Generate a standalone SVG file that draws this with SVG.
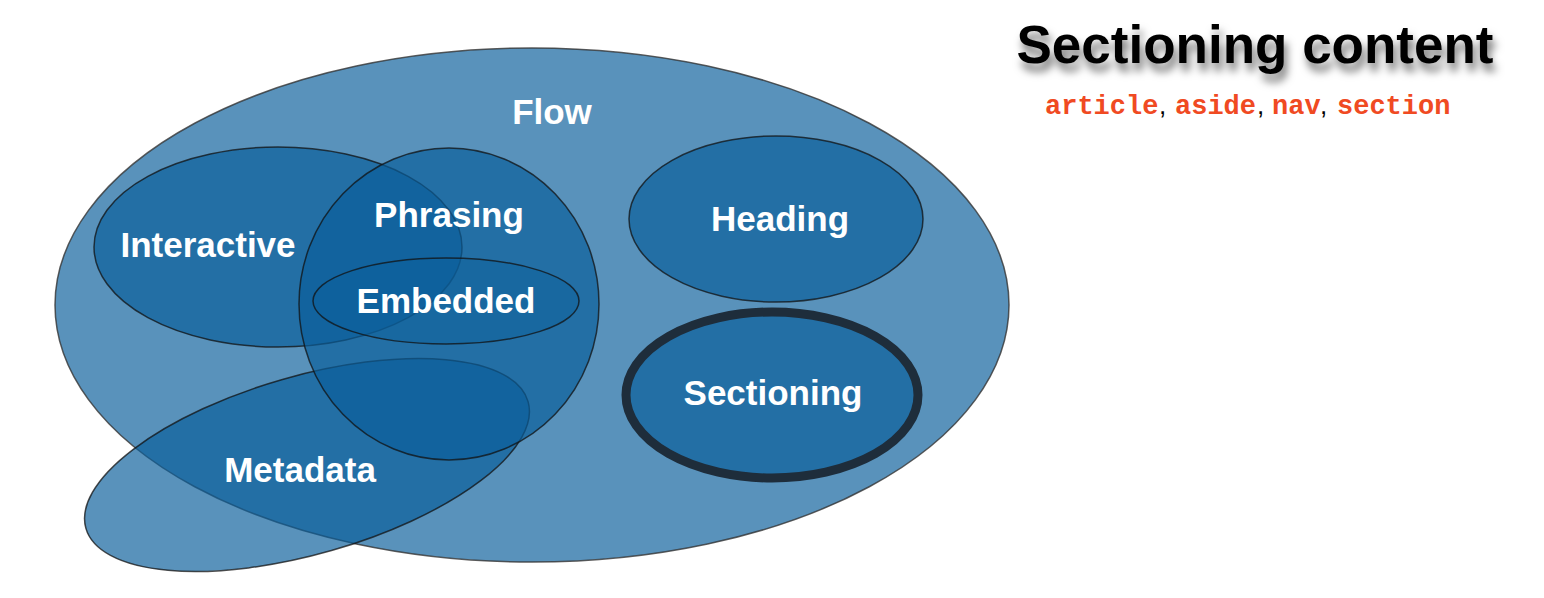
<svg xmlns="http://www.w3.org/2000/svg" width="1544" height="598" viewBox="0 0 1544 598">
<defs>
<filter id="sh" x="-10%" y="-30%" width="120%" height="180%">
<feDropShadow dx="3" dy="8" stdDeviation="4" flood-color="#000" flood-opacity="0.55"/>
</filter>
</defs>
<style>
.set{fill:rgb(10,95,155);fill-opacity:0.68;stroke:#111;stroke-opacity:0.75;stroke-width:1.5}
.lbl{font-family:"Liberation Sans",Arial,sans-serif;font-weight:bold;font-size:35px;fill:#fff;text-anchor:middle}
.code{font-family:"Liberation Mono","Courier New",monospace;font-weight:bold;font-size:27px;fill:#f04a22}
.comma{font-family:"Liberation Sans",Arial,sans-serif;font-size:26px;fill:#000}
</style>
<rect width="1544" height="598" fill="#fff"/>
<g id="flow">
<ellipse class="set" cx="532" cy="305" rx="477" ry="257" style="stroke:#333;stroke-opacity:0.8"/>
</g>
<g id="metadata">
<ellipse class="set" cx="307" cy="465" rx="230" ry="89" transform="rotate(-16 307 465)"/>
</g>
<g id="interactive">
<ellipse class="set" cx="278" cy="247" rx="184" ry="100"/>
</g>
<g id="phrasing">
<ellipse class="set" cx="449" cy="304" rx="150" ry="156"/>
</g>
<g id="embedded">
<ellipse class="set" cx="446" cy="301" rx="133" ry="43" style="fill-opacity:0.45"/>
</g>
<g id="heading">
<ellipse class="set" cx="776" cy="219" rx="147" ry="83"/>
</g>
<g id="sectioning">
<ellipse class="set" cx="772" cy="395" rx="146" ry="83" style="stroke:#1e2d3b;stroke-opacity:1;stroke-width:9"/>
</g>
<g id="connectors"></g>
<g id="labels">
<text class="lbl" x="552" y="124">Flow</text>
<text class="lbl" x="208" y="257">Interactive</text>
<text class="lbl" x="449" y="227">Phrasing</text>
<text class="lbl" x="446" y="313">Embedded</text>
<text class="lbl" x="780" y="231">Heading</text>
<text class="lbl" x="773" y="405">Sectioning</text>
<text class="lbl" x="300" y="482">Metadata</text>
</g>
<g id="title">
<text x="1255" y="63" filter="url(#sh)" style="font-family:'Liberation Sans',Arial,sans-serif;font-weight:bold;font-size:53px;fill:#000;text-anchor:middle">Sectioning content</text>
<text y="114"><tspan class="code" x="1045">article</tspan><tspan class="comma" x="1159">,</tspan><tspan class="code" x="1175">aside</tspan><tspan class="comma" x="1257">,</tspan><tspan class="code" x="1272">nav</tspan><tspan class="comma" x="1320">,</tspan><tspan class="code" x="1337">section</tspan></text>
</g>
</svg>
